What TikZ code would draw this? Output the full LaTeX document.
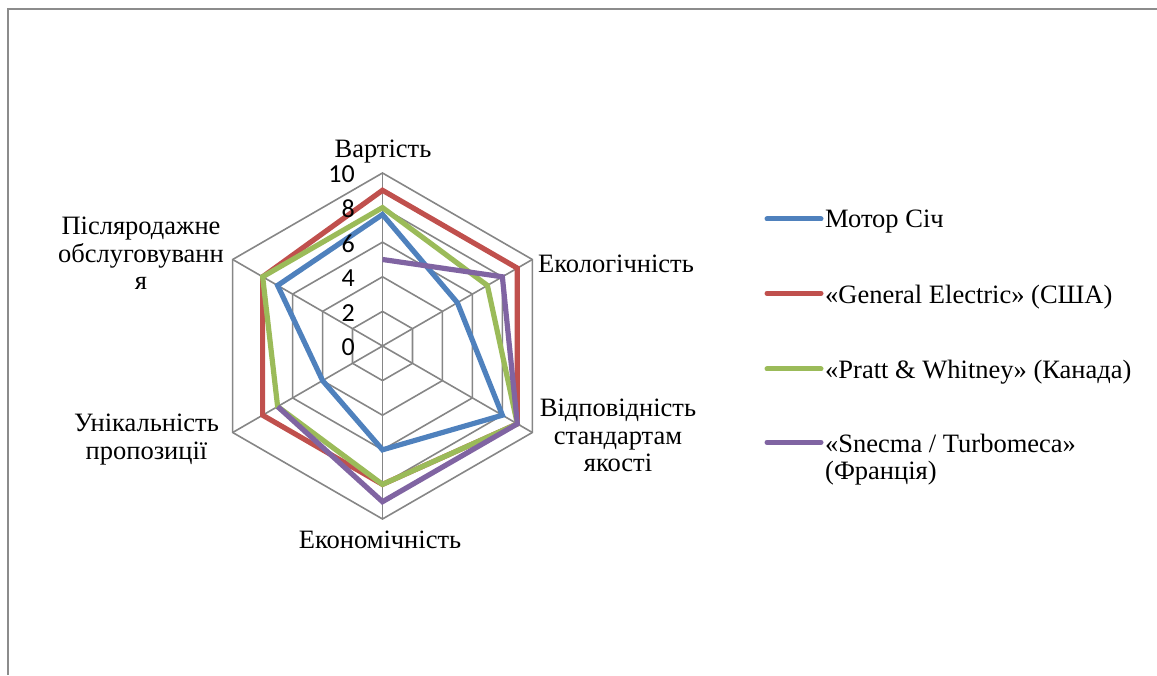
\documentclass[tikz,border=0pt]{standalone}
\usepackage{fontspec}
\setmainfont{Liberation Serif}
\newfontfamily\numfont{Carlito}
\definecolor{sblue}{HTML}{4F81BD}
\definecolor{sred}{HTML}{C0504D}
\definecolor{sgreen}{HTML}{9BBB59}
\definecolor{spurple}{HTML}{8064A2}
\definecolor{gridc}{HTML}{868686}
\definecolor{framec}{HTML}{8C8C8C}
\tikzset{
  gridline/.style={draw=gridc, line width=1.6pt},
  frameline/.style={draw=framec, line width=1.8pt},
  series/.style={line width=5.2pt, line join=miter},
  legline/.style={line width=5pt, line cap=round},
  lbl/.style={inner sep=0pt, font=\fontsize{26.5}{27.5}\selectfont},
  tick/.style={inner sep=0pt, anchor=east, font=\numfont\fontsize{26}{28}\selectfont},
}
\begin{document}
\begin{tikzpicture}[x=1pt,y=1pt]
\useasboundingbox (0,0) rectangle (1157,675);
\draw[frameline] (1157,666) -- (8,666) -- (8,0);
\coordinate (O) at (382.5,329);
\begin{scope}[shift={(O)}]
  \foreach \r in {2,4,6,8,10} {
    \draw[gridline] (90:\r*17.3) -- (30:\r*17.3) -- (-30:\r*17.3) -- (-90:\r*17.3) -- (-150:\r*17.3) -- (150:\r*17.3) -- cycle;
  }
  \foreach \a in {90,30,-30,-90,-150,150} {
    \draw[gridline] (0,0) -- (\a:173);
  }
  % Мотор Січ
  \draw[series, draw=sblue] (90:7.6*17.3) -- (30:5*17.3) -- (-30:8*17.3) -- (-90:6*17.3) -- (-150:4*17.3) -- (150:7*17.3) -- cycle;
  % General Electric
  \draw[series, draw=sred] (90:9*17.3) -- (30:9*17.3) -- (-30:9*17.3) -- (-90:8*17.3) -- (-150:8*17.3) -- (150:8*17.3) -- cycle;
  % Pratt & Whitney
  \draw[series, draw=sgreen] (90:8*17.3) -- (30:7*17.3) -- (-30:9*17.3) -- (-90:8*17.3) -- (-150:7*17.3) -- (150:8*17.3) -- cycle;
  % Snecma / Turbomeca
  \draw[series, draw=spurple] (90:5*17.3) -- (30:8*17.3) -- (-30:9*17.3) -- (-90:9*17.3) -- (-150:7*17.3);
\end{scope}
% tick labels
\foreach \k in {0,2,4,6,8,10} {
  \node[tick] (t\k) at (355, 327.5+\k*17.3) {\k};
}
% axis labels
\node[lbl, anchor=base] (a1) at (383,517) {Вартість};
\node[lbl, anchor=base west] (a2) at (538,402.5) {Екологічність};
\node[lbl, anchor=north, align=center] (a3) at (618,276) {Відповідність\\стандартам\\якості};
\node[lbl, anchor=base] (a4) at (380,126) {Економічність};
\node[lbl, anchor=north, align=center] (a5) at (146.5,261) {Унікальність\\пропозиції};
\node[lbl, anchor=north, align=center] (a6) at (141,458) {Післяродажне\\обслуговуванн\\я};
% legend
\coordinate (l1a) at (767,456); \coordinate (l1b) at (821,456);
\coordinate (l2a) at (767,381.7); \coordinate (l2b) at (821,381.7);
\coordinate (l3a) at (767,306); \coordinate (l3b) at (821,306);
\coordinate (l4a) at (767,232.7); \coordinate (l4b) at (821,232.7);
\draw[legline, draw=sblue] (l1a) -- (l1b);
\draw[legline, draw=sred] (l2a) -- (l2b);
\draw[legline, draw=sgreen] (l3a) -- (l3b);
\draw[legline, draw=spurple] (l4a) -- (l4b);
\node[lbl, anchor=base west] (g1) at (825,447) {Мотор Січ};
\node[lbl, anchor=base west] (g2) at (825,371.7) {«General Electric» (США)};
\node[lbl, anchor=base west] (g3) at (825,296.7) {«Pratt \& Whitney» (Канада)};
\node[lbl, anchor=north west, align=left] (g4) at (825,241.3) {«Snecma / Turbomeca»\\(Франція)};
\end{tikzpicture}
\end{document}
